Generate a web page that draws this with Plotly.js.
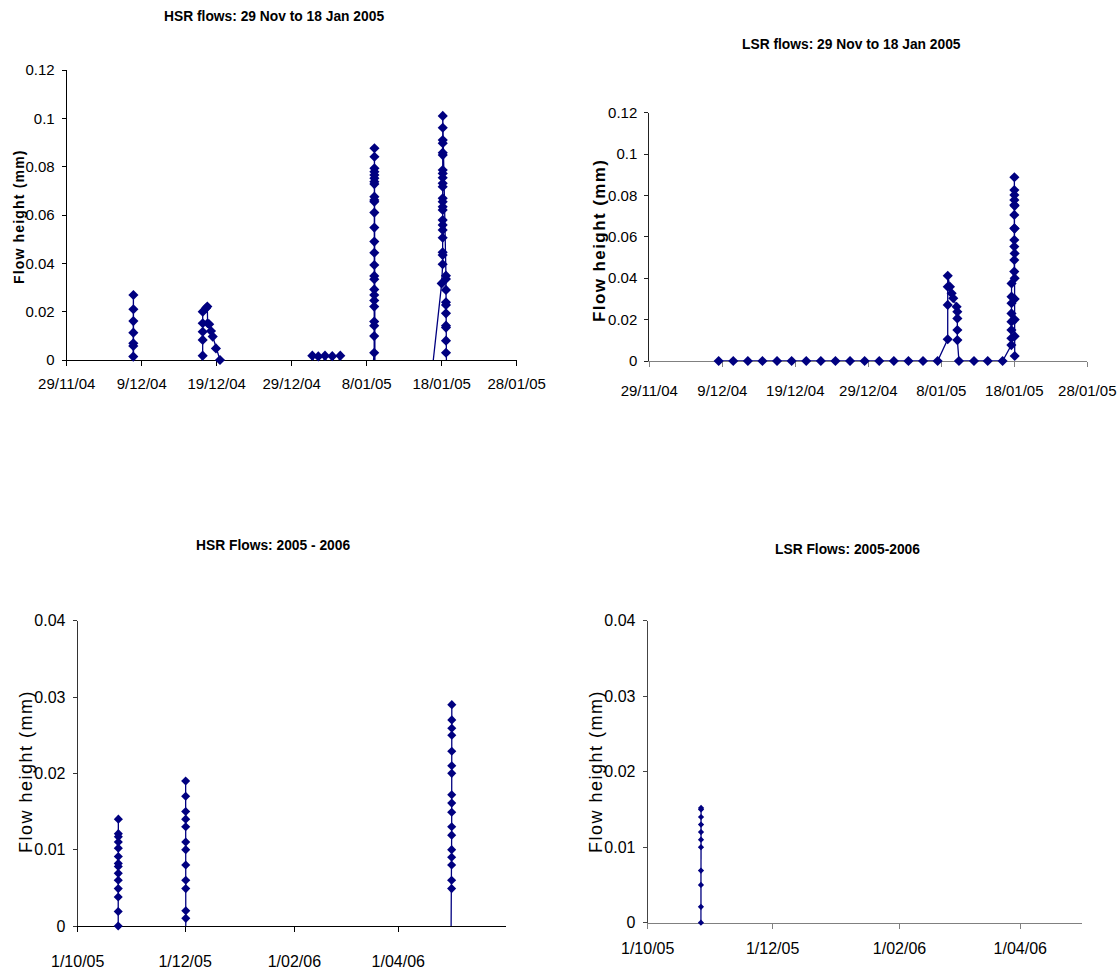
<!DOCTYPE html>
<html><head><meta charset="utf-8">
<script src="https://cdn.plot.ly/plotly-3.0.1.min.js"></script>
<style>html,body{margin:0;padding:0;background:#fff}#chart{width:1117px;height:969px}</style>
</head><body><div id="chart"></div>
<script>
// ---------- DATA ----------
// HSR flows, 29 Nov 2004 - 18 Jan 2005 (negative readings fall below the axis and are clipped)
const hsr0405Times = [
 '2004-12-07 20:30','2004-12-07 21:00','2004-12-07 21:05','2004-12-07 21:10','2004-12-07 21:15','2004-12-07 21:20','2004-12-07 21:25','2004-12-07 21:30','2004-12-07 22:00',
 '2004-12-16 21:36','2004-12-17 03:07','2004-12-17 03:10','2004-12-17 03:13','2004-12-17 03:16','2004-12-17 03:19','2004-12-17 13:41','2004-12-17 18:00','2004-12-17 19:00','2004-12-18 00:00','2004-12-18 05:45','2004-12-18 11:17','2004-12-18 21:36','2004-12-19 10:34','2004-12-19 14:24',
 '2004-12-31 12:00','2004-12-31 18:00','2005-01-01 03:36','2005-01-01 13:12','2005-01-02 00:00','2005-01-02 10:34','2005-01-02 21:36','2005-01-03 09:50','2005-01-03 22:48','2005-01-04 11:31','2005-01-04 14:24',
 '2005-01-08 19:12','2005-01-09 00:00','2005-01-09 00:02','2005-01-09 00:04','2005-01-09 00:06','2005-01-09 00:08','2005-01-09 00:10','2005-01-09 00:12','2005-01-09 00:14','2005-01-09 00:16','2005-01-09 00:18','2005-01-09 00:20','2005-01-09 00:22','2005-01-09 00:24','2005-01-09 00:26','2005-01-09 00:28','2005-01-09 00:30','2005-01-09 00:32','2005-01-09 00:34','2005-01-09 00:36','2005-01-09 00:38','2005-01-09 00:40','2005-01-09 00:42','2005-01-09 00:44','2005-01-09 00:46','2005-01-09 00:48','2005-01-09 00:50','2005-01-09 02:24',
 '2005-01-16 14:24','2005-01-18 00:00','2005-01-18 03:07','2005-01-18 03:08','2005-01-18 03:09','2005-01-18 03:10','2005-01-18 03:11','2005-01-18 03:12','2005-01-18 03:13','2005-01-18 03:14','2005-01-18 03:15','2005-01-18 03:16','2005-01-18 03:17','2005-01-18 03:18','2005-01-18 03:19','2005-01-18 03:20','2005-01-18 03:21','2005-01-18 03:22','2005-01-18 03:23','2005-01-18 03:24','2005-01-18 03:25','2005-01-18 03:26','2005-01-18 03:27','2005-01-18 03:28',
 '2005-01-18 13:41','2005-01-18 13:42','2005-01-18 13:43','2005-01-18 13:44','2005-01-18 13:45','2005-01-18 13:46','2005-01-18 13:47','2005-01-18 13:48','2005-01-18 13:49','2005-01-18 13:50','2005-01-18 15:36'
];
const hsr0405Values = [
 -0.004,0.0014,0.0058,0.0069,0.0113,0.0161,0.021,0.0269,-0.004,
 -0.003,0.0018,0.0083,0.0117,0.0152,0.0200,0.0214,0.0221,0.0152,0.0148,0.0120,0.0097,0.0048,0.0,-0.003,
 -0.004,0.0018,-0.004,0.0015,-0.004,0.0018,-0.004,0.0016,-0.004,0.0018,-0.004,
 -0.004,0.003,0.0099,0.0142,0.0159,0.0221,0.0246,0.0269,0.0292,0.0334,0.0348,0.0393,0.0444,0.049,0.0548,0.061,0.0655,0.0662,0.0676,0.0728,0.0738,0.0752,0.0766,0.0779,0.0793,0.0841,0.0876,-0.004,
 -0.008,0.0317,0.0396,0.0434,0.0446,0.0506,0.0538,0.0559,0.0579,0.0621,0.0634,0.0655,0.0669,0.0717,0.0731,0.0754,0.0772,0.0786,0.0848,0.0858,0.0897,0.091,0.0961,0.101,
 0.0349,0.0335,0.029,0.0239,0.0228,0.0193,0.0142,0.0134,0.008,0.003,-0.01
];

// LSR flows, 29 Nov 2004 - 18 Jan 2005
const lsr0405Times = [
 '2004-12-08 12:00','2004-12-10 12:00','2004-12-12 12:00','2004-12-14 12:00','2004-12-16 12:00','2004-12-18 12:00','2004-12-20 12:00','2004-12-22 12:00',
 '2004-12-24 12:00','2004-12-26 12:00','2004-12-28 12:00','2004-12-30 12:00','2005-01-01 12:00','2005-01-03 12:00','2005-01-05 12:00','2005-01-07 12:00',
 '2005-01-08 21:07','2005-01-08 21:10','2005-01-08 21:13','2005-01-08 21:16','2005-01-09 04:34','2005-01-09 10:05','2005-01-09 15:22','2005-01-10 02:24','2005-01-10 04:48','2005-01-10 04:50','2005-01-10 04:52','2005-01-10 04:54',
 '2005-01-10 10:05','2005-01-12 11:31','2005-01-14 08:38','2005-01-16 09:36',
 '2005-01-17 14:24','2005-01-17 14:30','2005-01-17 14:36','2005-01-17 14:42','2005-01-17 14:48','2005-01-17 14:54','2005-01-17 15:00','2005-01-17 15:06',
 '2005-01-18 00:00','2005-01-18 00:02','2005-01-18 00:04','2005-01-18 00:06','2005-01-18 00:08','2005-01-18 00:10','2005-01-18 00:12','2005-01-18 00:14','2005-01-18 00:16','2005-01-18 00:18','2005-01-18 00:20',
 '2005-01-18 01:12','2005-01-18 01:14','2005-01-18 01:16','2005-01-18 01:18','2005-01-18 01:20','2005-01-18 01:22','2005-01-18 01:24','2005-01-18 01:26'
];
const lsr0405Values = [
 0,0,0,0,0,0,0,0,0,0,0,0,0,0,0,0,
 0.0105,0.0271,0.0359,0.0412,0.0359,0.0327,0.0303,0.0262,0.0238,0.0206,0.015,0.0101,
 0,0,0,0,
 0.0077,0.011,0.015,0.019,0.023,0.0279,0.0311,0.0375,
 0.0432,0.0488,0.0553,0.0585,0.0641,0.0706,0.0754,0.0778,0.0802,0.0826,0.0888,
 0.075,0.064,0.052,0.040,0.030,0.020,0.012,0.0024
];

// HSR flows 2005 - 2006
const hsr0506Times = [
 '2005-10-24 00:00','2005-10-24 00:10','2005-10-24 00:20','2005-10-24 00:30','2005-10-24 00:40','2005-10-24 00:50','2005-10-24 01:00','2005-10-24 01:10','2005-10-24 01:20','2005-10-24 01:30','2005-10-24 01:40','2005-10-24 01:50','2005-10-24 02:00','2005-10-24 02:10',
 '2005-11-10 00:00',
 '2005-12-01 07:00','2005-12-01 07:10','2005-12-01 07:20','2005-12-01 07:30','2005-12-01 07:40','2005-12-01 07:50','2005-12-01 08:00','2005-12-01 08:10','2005-12-01 08:20','2005-12-01 08:30','2005-12-01 08:40','2005-12-01 08:50','2005-12-01 09:00',
 '2006-04-30 23:00','2006-05-01 07:00','2006-05-01 07:10','2006-05-01 07:20','2006-05-01 07:30','2006-05-01 07:40','2006-05-01 07:50','2006-05-01 08:00','2006-05-01 08:10','2006-05-01 08:20','2006-05-01 08:30','2006-05-01 08:40','2006-05-01 08:50','2006-05-01 09:00','2006-05-01 09:10','2006-05-01 09:20','2006-05-01 09:30','2006-05-01 09:40'
];
const hsr0506Values = [
 0,0.0019,0.0038,0.0049,0.006,0.0069,0.0078,0.0082,0.0091,0.0102,0.011,0.0117,0.0121,0.014,
 null,
 0.019,0.017,0.015,0.014,0.013,0.011,0.010,0.008,0.006,0.0049,0.002,0.001,-0.002,
 -0.002,0.0049,0.006,0.008,0.009,0.0100,0.0119,0.013,0.0149,0.0161,0.0172,0.020,0.021,0.0229,0.025,0.0259,0.027,0.029
];

// LSR flows 2005 - 2006
const lsr0506Times = ['2005-10-27 00:00','2005-10-27 00:10','2005-10-27 00:20','2005-10-27 00:30','2005-10-27 00:40','2005-10-27 00:50','2005-10-27 01:00','2005-10-27 01:10','2005-10-27 01:20','2005-10-27 01:30','2005-10-27 01:40'];
const lsr0506Values = [0,0.0021,0.005,0.0069,0.010,0.011,0.012,0.013,0.014,0.015,0.0152];

// Tick labels
const ticks0405Vals = ['2004-11-29','2004-12-09','2004-12-19','2004-12-29','2005-01-08','2005-01-18','2005-01-28'];
const ticks0405Text = ['29/11/04','9/12/04','19/12/04','29/12/04','8/01/05','18/01/05','28/01/05'];
const ticks0506Vals = ['2005-10-01','2005-12-01','2006-02-01','2006-04-01'];
const ticks0506Text = ['1/10/05','1/12/05','1/02/06','1/04/06'];

const chartTitles = ['HSR flows: 29 Nov to 18 Jan 2005','LSR flows: 29 Nov to 18 Jan 2005','HSR Flows: 2005 - 2006','LSR Flows: 2005-2006'];
const yTitle = 'Flow height (mm)';

// ---------- LAYOUT ----------
const W = 1117, H = 969;
const NAVY = '#000080';
const SANS = 'Liberation Sans, Arial, sans-serif';

function px2x(p){ return p / W; }
function px2y(p){ return 1 - p / H; }

const panels = [
  {t: hsr0405Times, v: hsr0405Values, box: [66.7, 516.7, 70, 360], xr: ['2004-11-29','2005-01-28 00:05'], tv: ticks0405Vals, tt: ticks0405Text, yr: [0,0.12], dt: 0.02, xc: '#000', yc: '#000', ms: 7.8, stand: 5, fs: 15},
  {t: lsr0405Times, v: lsr0405Values, box: [649.3, 1087.3, 112.7, 361], xr: ['2004-11-29','2005-01-28 00:05'], tv: ticks0405Vals, tt: ticks0405Text, yr: [0,0.12], dt: 0.02, xc: '#808080', yc: '#222', ms: 7.8, stand: 11, fs: 15},
  {t: hsr0506Times, v: hsr0506Values, box: [77.7, 505.7, 620.7, 926], xr: ['2005-10-01','2006-06-01'], tv: ticks0506Vals, tt: ticks0506Text, yr: [0,0.04], dt: 0.01, xc: '#000', yc: '#333', ms: 7, stand: 16, fs: 16},
  {t: lsr0506Times, v: lsr0506Values, box: [647.7, 1081.7, 620.7, 922.7], xr: ['2005-10-01','2006-05-01'], tv: ticks0506Vals, tt: ticks0506Text, yr: [0,0.04], dt: 0.01, xc: '#808080', yc: '#444', ms: 4.8, stand: 6, fs: 16}
];

const data = [];
const layout = {
  width: W, height: H, margin: {l:0, r:0, t:0, b:0},
  paper_bgcolor: '#fff', plot_bgcolor: '#fff', showlegend: false,
  annotations: []
};

panels.forEach((p, i) => {
  const n = i === 0 ? '' : String(i + 1);
  const xa = 'x' + n, ya = 'y' + n;
  data.push({x: p.t, y: p.v, xaxis: xa, yaxis: ya, type: 'scatter', mode: 'lines',
    line: {color: NAVY, width: 1.3}, connectgaps: false, hoverinfo: 'skip'});
  const mt = [], mv = [];
  p.t.forEach((t, k) => { if (p.v[k] !== null && p.v[k] >= 0) { mt.push(t); mv.push(p.v[k]); } });
  data.push({x: mt, y: mv, xaxis: xa, yaxis: ya, type: 'scatter', mode: 'markers', cliponaxis: false,
    marker: {symbol: 'diamond', size: p.ms, color: NAVY, line: {width: 0}}});
  const [x0, x1, yt, yb] = p.box;
  layout['xaxis' + n] = {
    domain: [px2x(x0), px2x(x1)], anchor: ya, type: 'date', range: p.xr,
    tickmode: 'array', tickvals: p.tv, ticktext: p.tt, ticks: 'outside', ticklen: 5, tickwidth: 1,
    tickcolor: p.xc, showline: true, linecolor: p.xc, linewidth: 1, showgrid: false, zeroline: false,
    tickfont: {family: SANS, size: p.fs, color: '#000'}, ticklabelstandoff: p.stand,
    ticklabeloverflow: 'allow', layer: 'below traces'
  };
  layout['yaxis' + n] = {
    domain: [px2y(yb), px2y(yt)], anchor: xa, range: p.yr, dtick: p.dt, tick0: 0,
    ticks: 'outside', ticklen: 4, tickwidth: 1, tickcolor: p.yc, showline: true, linecolor: p.yc, linewidth: 1,
    showgrid: false, zeroline: false, tickfont: {family: SANS, size: p.fs, color: '#000'},
    ticklabelstandoff: 4, ticklabeloverflow: 'allow', layer: 'below traces'
  };
});

// chart titles
const titlePos = [[273.6, 16], [851, 44], [273, 545], [847, 549]];
chartTitles.forEach((s, i) => {
  layout.annotations.push({text: '<b>' + s + '</b>', xref: 'paper', yref: 'paper',
    x: px2x(titlePos[i][0]), y: px2y(titlePos[i][1]), xanchor: 'center', yanchor: 'middle',
    showarrow: false, font: {family: SANS, size: 13.8, color: '#000'}});
});

// y-axis titles (letter-spaced)
function spaced(s, sep){ return s.split('').join(sep); }
const yTitleSpec = [
  {x: 19, y: 218, size: 14, bold: true, sep: '\u200A'},
  {x: 599, y: 241, size: 17, bold: true, sep: '\u200A'},
  {x: 26, y: 772, size: 18, bold: false, sep: '\u200A'},
  {x: 596, y: 772, size: 18, bold: false, sep: '\u200A'}
];
yTitleSpec.forEach(s => {
  const txt = spaced(yTitle, s.sep);
  layout.annotations.push({text: s.bold ? '<b>' + txt + '</b>' : txt, xref: 'paper', yref: 'paper',
    x: px2x(s.x), y: px2y(s.y), xanchor: 'center', yanchor: 'middle', textangle: -90,
    showarrow: false, font: {family: SANS, size: s.size, color: '#000'}});
});

Plotly.newPlot('chart', data, layout, {displayModeBar: false, staticPlot: true});
</script></body></html>
